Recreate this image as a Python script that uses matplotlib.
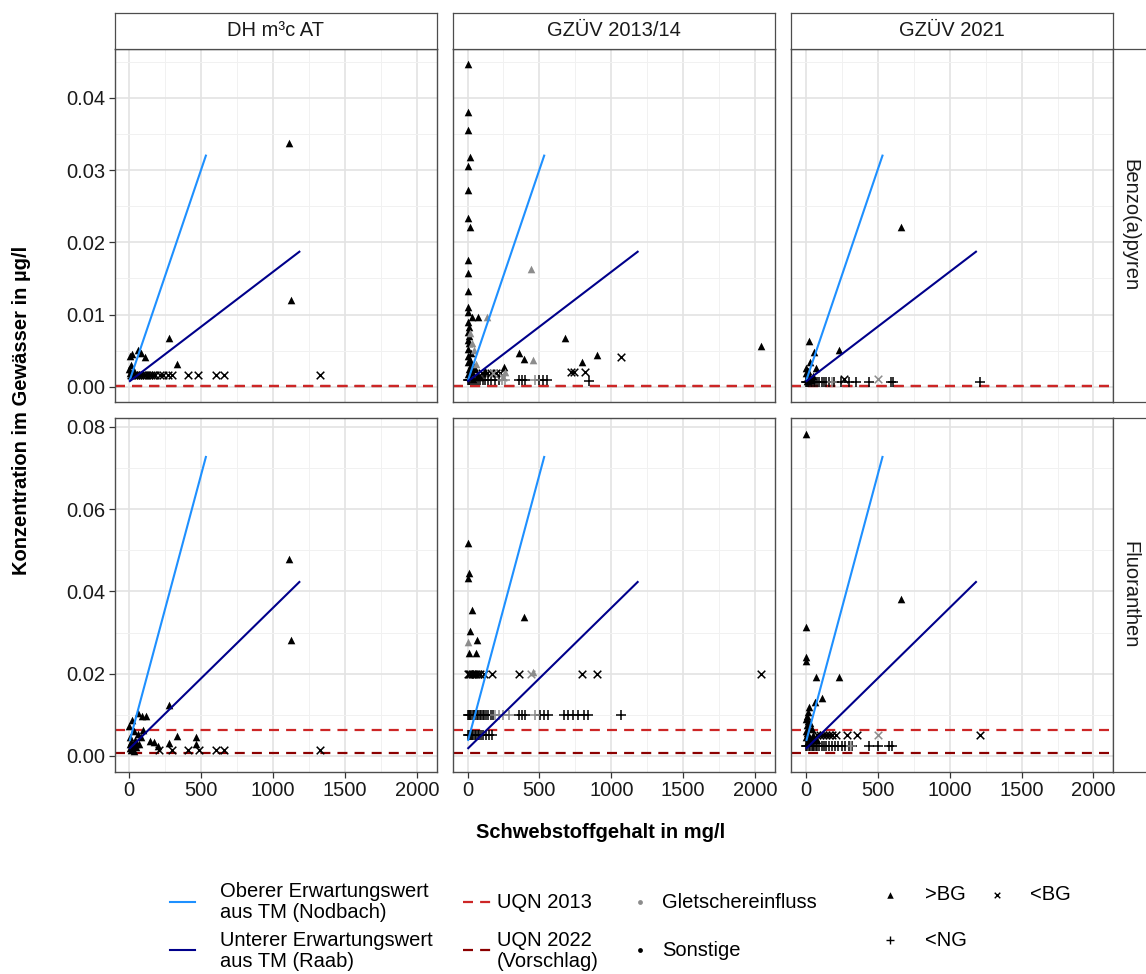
import matplotlib
matplotlib.use("Agg")
import matplotlib.pyplot as plt
import pandas as pd
from matplotlib.lines import Line2D

plt.rcParams['font.family'] = ['Liberation Sans', 'DejaVu Sans']

W, H = 1146, 974

sources = ["DH m³c AT", "GZÜV 2013/14", "GZÜV 2021"]
substances = ["Benzo(a)pyren", "Fluoranthen"]

# (Schwebstoff mg/l, Konzentration µg/l, Kennung, Herkunft: S = Sonstige, G = Gletschereinfluss)
bap_dh = [
    (0, .0025, ">BG", "S"), (3, .0019, ">BG", "S"), (8, .0043, ">BG", "S"), (12, .0030, ">BG", "S"),
    (19, .0046, ">BG", "S"), (25, .0018, ">BG", "S"), (35, .0022, ">BG", "S"), (60, .0051, ">BG", "S"),
    (81, .0047, ">BG", "S"), (113, .0041, ">BG", "S"), (280, .0067, ">BG", "S"), (329, .0032, ">BG", "S"),
    (1109, .0337, ">BG", "S"), (1125, .0120, ">BG", "S"),
    (15, .0016, "<BG", "S"), (30, .0016, "<BG", "S"), (45, .0016, "<BG", "S"), (60, .0016, "<BG", "S"),
    (75, .0016, "<BG", "S"), (90, .0016, "<BG", "S"), (105, .0016, "<BG", "S"), (120, .0016, "<BG", "S"),
    (135, .0016, "<BG", "S"), (150, .0016, "<BG", "S"), (165, .0016, "<BG", "S"), (180, .0016, "<BG", "S"),
    (215, .0016, "<BG", "S"), (235, .0016, "<BG", "S"), (273, .0016, "<BG", "S"), (297, .0016, "<BG", "S"),
    (412, .0016, "<BG", "S"), (475, .0016, "<BG", "S"), (604, .0016, "<BG", "S"), (662, .0016, "<BG", "S"),
    (1326, .0016, "<BG", "S"),
]

bap_gz13 = [
    (2, .0447, ">BG", "S"), (0, .0380, ">BG", "S"), (0, .0356, ">BG", "S"), (16, .0318, ">BG", "S"),
    (0, .0305, ">BG", "S"), (0, .0272, ">BG", "S"), (0, .0234, ">BG", "S"), (20, .0221, ">BG", "S"),
    (0, .0175, ">BG", "S"), (2, .0158, ">BG", "S"), (0, .0133, ">BG", "S"), (0, .0110, ">BG", "S"),
    (3, .0104, ">BG", "S"), (32, .0097, ">BG", "S"), (72, .0096, ">BG", "S"), (5, .0090, ">BG", "S"),
    (10, .0083, ">BG", "S"), (3, .0076, ">BG", "S"), (8, .0070, ">BG", "S"), (0, .0065, ">BG", "S"),
    (12, .0060, ">BG", "S"), (4, .0053, ">BG", "S"), (22, .0047, ">BG", "S"), (6, .0043, ">BG", "S"),
    (15, .0037, ">BG", "S"), (0, .0034, ">BG", "S"), (25, .0030, ">BG", "S"), (45, .0028, ">BG", "S"),
    (9, .0025, ">BG", "S"), (55, .0024, ">BG", "S"), (30, .0020, ">BG", "S"), (0, .0018, ">BG", "S"),
    (70, .0016, ">BG", "S"), (14, .0014, ">BG", "S"), (90, .0013, ">BG", "S"), (40, .0011, ">BG", "S"),
    (252, .0028, ">BG", "S"), (120, .0022, ">BG", "S"), (356, .0047, ">BG", "S"), (391, .0039, ">BG", "S"),
    (676, .0068, ">BG", "S"), (796, .0034, ">BG", "S"), (900, .0044, ">BG", "S"), (2039, .0056, ">BG", "S"),
    (1069, .0041, "<BG", "S"), (722, .0020, "<BG", "S"), (741, .0020, "<BG", "S"), (815, .0020, "<BG", "S"),
    (100, .0019, "<BG", "S"), (137, .0019, "<BG", "S"), (160, .0019, "<BG", "S"), (200, .0019, "<BG", "S"),
    (229, .0019, "<BG", "S"),
    (0, .0009, "<NG", "S"), (10, .0009, "<NG", "S"), (20, .0009, "<NG", "S"), (32, .0009, "<NG", "S"),
    (45, .0009, "<NG", "S"), (60, .0009, "<NG", "S"), (75, .0009, "<NG", "S"), (90, .0009, "<NG", "S"),
    (105, .0009, "<NG", "S"), (120, .0009, "<NG", "S"), (140, .0009, "<NG", "S"), (160, .0009, "<NG", "S"),
    (190, .0009, "<NG", "S"), (218, .0009, "<NG", "S"), (356, .0009, "<NG", "S"), (380, .0009, "<NG", "S"),
    (403, .0009, "<NG", "S"), (495, .0009, "<NG", "S"), (523, .0009, "<NG", "S"), (553, .0009, "<NG", "S"),
    (843, .00085, "<NG", "S"),
    (442, .0163, ">BG", "G"), (137, .0097, ">BG", "G"), (454, .0037, ">BG", "G"), (32, .0060, ">BG", "G"),
    (44, .0051, ">BG", "G"), (264, .0021, ">BG", "G"), (20, .0074, ">BG", "G"), (60, .0031, ">BG", "G"),
    (180, .0019, "<BG", "G"), (250, .0014, "<BG", "G"),
    (240, .0009, "<NG", "G"), (264, .0009, "<NG", "G"), (472, .0009, "<NG", "G"),
]

bap_gz21 = [
    (662, .0221, ">BG", "S"), (23, .0064, ">BG", "S"), (58, .0048, ">BG", "S"), (231, .0051, ">BG", "S"),
    (30, .0035, ">BG", "S"), (0, .0026, ">BG", "S"), (69, .0026, ">BG", "S"), (0, .0019, ">BG", "S"),
    (23, .0017, ">BG", "S"), (10, .0012, ">BG", "S"), (46, .0011, ">BG", "S"), (5, .0008, ">BG", "S"),
    (35, .0009, ">BG", "S"), (15, .0022, ">BG", "S"), (50, .0015, ">BG", "S"),
    (266, .00115, "<BG", "S"),
    (0, .0007, "<NG", "S"), (8, .0007, "<NG", "S"), (16, .0007, "<NG", "S"), (25, .0007, "<NG", "S"),
    (35, .0007, "<NG", "S"), (45, .0007, "<NG", "S"), (55, .0007, "<NG", "S"), (65, .0007, "<NG", "S"),
    (80, .0007, "<NG", "S"), (95, .0007, "<NG", "S"), (110, .0007, "<NG", "S"), (125, .0007, "<NG", "S"),
    (140, .0007, "<NG", "S"), (160, .0007, "<NG", "S"), (196, .0007, "<NG", "S"), (243, .0007, "<NG", "S"),
    (301, .0007, "<NG", "S"), (347, .0007, "<NG", "S"), (440, .0007, "<NG", "S"), (590, .0007, "<NG", "S"),
    (608, .0007, "<NG", "S"), (1210, .0007, "<NG", "S"),
    (505, .00115, "<BG", "G"), (180, .0007, "<NG", "G"),
]

fl_dh = [
    (0, .0073, ">BG", "S"), (2, .0030, ">BG", "S"), (5, .0020, ">BG", "S"), (8, .0045, ">BG", "S"),
    (10, .0015, ">BG", "S"), (15, .0035, ">BG", "S"), (19, .0087, ">BG", "S"), (25, .0025, ">BG", "S"),
    (30, .0012, ">BG", "S"), (40, .0040, ">BG", "S"), (50, .0022, ">BG", "S"), (60, .0104, ">BG", "S"),
    (60, .0053, ">BG", "S"), (70, .0030, ">BG", "S"), (88, .0096, ">BG", "S"), (99, .0063, ">BG", "S"),
    (116, .0097, ">BG", "S"), (146, .0037, ">BG", "S"), (169, .0034, ">BG", "S"), (203, .0025, ">BG", "S"),
    (280, .0123, ">BG", "S"), (280, .0032, ">BG", "S"), (329, .0049, ">BG", "S"), (465, .0045, ">BG", "S"),
    (465, .0030, ">BG", "S"), (1109, .0480, ">BG", "S"), (1125, .0283, ">BG", "S"), (35, .0060, ">BG", "S"),
    (80, .0045, ">BG", "S"), (20, .0018, ">BG", "S"), (45, .0030, ">BG", "S"),
    (204, .0015, "<BG", "S"), (296, .0015, "<BG", "S"), (412, .0015, "<BG", "S"), (482, .0015, "<BG", "S"),
    (604, .0015, "<BG", "S"), (662, .0015, "<BG", "S"), (1326, .0015, "<BG", "S"),
]

fl_gz13 = [
    (2, .0518, ">BG", "S"), (9, .0444, ">BG", "S"), (0, .0432, ">BG", "S"), (33, .0356, ">BG", "S"),
    (391, .0338, ">BG", "S"), (14, .0304, ">BG", "S"), (63, .0282, ">BG", "S"), (9, .0251, ">BG", "S"),
    (60, .0251, ">BG", "S"),
    (0, .0200, "<BG", "S"), (10, .0200, "<BG", "S"), (20, .0200, "<BG", "S"), (30, .0200, "<BG", "S"),
    (40, .0200, "<BG", "S"), (50, .0200, "<BG", "S"), (60, .0200, "<BG", "S"), (75, .0200, "<BG", "S"),
    (90, .0200, "<BG", "S"), (113, .0200, "<BG", "S"), (167, .0200, "<BG", "S"), (356, .0200, "<BG", "S"),
    (796, .0200, "<BG", "S"), (900, .0200, "<BG", "S"), (2040, .0200, "<BG", "S"),
    (0, .0100, "<NG", "S"), (8, .0100, "<NG", "S"), (16, .0100, "<NG", "S"), (25, .0100, "<NG", "S"),
    (35, .0100, "<NG", "S"), (45, .0100, "<NG", "S"), (55, .0100, "<NG", "S"), (65, .0100, "<NG", "S"),
    (75, .0100, "<NG", "S"), (85, .0100, "<NG", "S"), (95, .0100, "<NG", "S"), (105, .0100, "<NG", "S"),
    (115, .0100, "<NG", "S"), (125, .0100, "<NG", "S"), (140, .0100, "<NG", "S"), (160, .0100, "<NG", "S"),
    (180, .0100, "<NG", "S"), (356, .0100, "<NG", "S"), (380, .0100, "<NG", "S"), (403, .0100, "<NG", "S"),
    (507, .0100, "<NG", "S"), (530, .0100, "<NG", "S"), (560, .0100, "<NG", "S"), (669, .0100, "<NG", "S"),
    (700, .0100, "<NG", "S"), (734, .0100, "<NG", "S"), (766, .0100, "<NG", "S"), (808, .0100, "<NG", "S"),
    (836, .0100, "<NG", "S"), (1069, .0100, "<NG", "S"),
    (0, .0050, "<NG", "S"), (8, .0050, "<NG", "S"), (16, .0050, "<NG", "S"), (24, .0050, "<NG", "S"),
    (32, .0050, "<NG", "S"), (40, .0050, "<NG", "S"), (50, .0050, "<NG", "S"), (60, .0050, "<NG", "S"),
    (70, .0050, "<NG", "S"), (80, .0050, "<NG", "S"), (95, .0050, "<NG", "S"), (110, .0050, "<NG", "S"),
    (130, .0050, "<NG", "S"), (150, .0050, "<NG", "S"), (171, .0050, "<NG", "S"),
    (5, .0276, ">BG", "G"), (454, .0205, ">BG", "G"), (438, .0200, "<BG", "G"),
    (194, .0100, "<NG", "G"), (220, .0100, "<NG", "G"), (250, .0100, "<NG", "G"), (287, .0100, "<NG", "G"),
    (472, .0100, "<NG", "G"),
]

fl_gz21 = [
    (0, .0784, ">BG", "S"), (0, .0313, ">BG", "S"), (0, .0241, ">BG", "S"), (0, .0232, ">BG", "S"),
    (69, .0193, ">BG", "S"), (231, .0193, ">BG", "S"), (662, .0382, ">BG", "S"), (109, .0142, ">BG", "S"),
    (62, .0132, ">BG", "S"), (23, .0120, ">BG", "S"), (12, .0108, ">BG", "S"), (8, .0097, ">BG", "S"),
    (0, .0090, ">BG", "S"), (15, .0085, ">BG", "S"), (30, .0080, ">BG", "S"), (5, .0075, ">BG", "S"),
    (20, .0070, ">BG", "S"), (40, .0065, ">BG", "S"), (0, .0060, ">BG", "S"), (10, .0055, ">BG", "S"),
    (50, .0052, ">BG", "S"), (25, .0048, ">BG", "S"), (3, .0045, ">BG", "S"), (60, .0042, ">BG", "S"),
    (35, .0040, ">BG", "S"), (18, .0036, ">BG", "S"), (75, .0038, ">BG", "S"),
    (81, .0050, "<BG", "S"), (100, .0050, "<BG", "S"), (120, .0050, "<BG", "S"), (140, .0050, "<BG", "S"),
    (160, .0050, "<BG", "S"), (185, .0050, "<BG", "S"), (208, .0050, "<BG", "S"), (285, .0050, "<BG", "S"),
    (354, .0050, "<BG", "S"), (1210, .0050, "<BG", "S"),
    (0, .0025, "<NG", "S"), (10, .0025, "<NG", "S"), (20, .0025, "<NG", "S"), (30, .0025, "<NG", "S"),
    (40, .0025, "<NG", "S"), (50, .0025, "<NG", "S"), (60, .0025, "<NG", "S"), (69, .0025, "<NG", "S"),
    (80, .0025, "<NG", "S"), (95, .0025, "<NG", "S"), (110, .0025, "<NG", "S"), (125, .0025, "<NG", "S"),
    (140, .0025, "<NG", "S"), (160, .0025, "<NG", "S"), (180, .0025, "<NG", "S"), (200, .0025, "<NG", "S"),
    (225, .0025, "<NG", "S"), (250, .0025, "<NG", "S"), (275, .0025, "<NG", "S"), (300, .0025, "<NG", "S"),
    (324, .0025, "<NG", "S"), (440, .0025, "<NG", "S"), (502, .0025, "<NG", "S"), (579, .0025, "<NG", "S"),
    (602, .0025, "<NG", "S"),
    (505, .0050, "<BG", "G"), (313, .0025, "<NG", "G"),
]

panel_data = {
    ("Benzo(a)pyren", "DH m³c AT"): bap_dh,
    ("Benzo(a)pyren", "GZÜV 2013/14"): bap_gz13,
    ("Benzo(a)pyren", "GZÜV 2021"): bap_gz21,
    ("Fluoranthen", "DH m³c AT"): fl_dh,
    ("Fluoranthen", "GZÜV 2013/14"): fl_gz13,
    ("Fluoranthen", "GZÜV 2021"): fl_gz21,
}

# Erwartungswerte aus Trockenmasse: Endpunkte (Schwebstoff mg/l -> µg/l)
tm_ss_upper = [5, 533]
tm_ss_lower = [5, 1183]
tm_upper = {"Benzo(a)pyren": [0.0010, 0.0320], "Fluoranthen": [0.0039, 0.0727]}
tm_lower = {"Benzo(a)pyren": [0.0008, 0.0187], "Fluoranthen": [0.0019, 0.0423]}

# Umweltqualitätsnormen (µg/l)
uqn_2013 = {"Benzo(a)pyren": 0.00017, "Fluoranthen": 0.0063}
uqn_2022 = {"Benzo(a)pyren": 0.00017, "Fluoranthen": 0.00076}

x_ticks = [0, 500, 1000, 1500, 2000]
y_ticks = {"Benzo(a)pyren": [0.00, 0.01, 0.02, 0.03, 0.04],
           "Fluoranthen": [0.00, 0.02, 0.04, 0.06, 0.08]}
y_minor = {"Benzo(a)pyren": [0.005, 0.015, 0.025, 0.035, 0.045],
           "Fluoranthen": [0.01, 0.03, 0.05, 0.07]}
y_lims = {"Benzo(a)pyren": (-0.0021, 0.0468), "Fluoranthen": (-0.0038, 0.0821)}

rows = []
for (sub, src), pts in panel_data.items():
    for x, y, kind, grp in pts:
        rows.append((sub, src, x, y, kind, grp))
df = pd.DataFrame(rows, columns=["substance", "source", "ss", "conc", "kind", "group"])

col_upper = "#1E90FF"
col_lower = "#00008B"
col_uqn13 = "#CD2626"
col_uqn22 = "#8B0000"
group_colors = {"S": "black", "G": "#8c8c8c"}
marker_kw = {
    ">BG": dict(marker="^", s=30, linewidths=0),
    "<BG": dict(marker="x", s=30, linewidths=1.1),
    "<NG": dict(marker="+", s=55, linewidths=1.1),
}
border = "#4d4d4d"
fs = 14.5


def box(left, top, w, h):
    return [left / W, 1 - (top + h) / H, w / W, h / H]


col_left = [114.7, 453.0, 791.3]
row_top = [48.7, 418.3]
pw, ph = 322.0, 353.3

fig = plt.figure(figsize=(W / 100, H / 100), dpi=100)

for r, sub in enumerate(substances):
    for c, src in enumerate(sources):
        ax = fig.add_axes(box(col_left[c], row_top[r], pw, ph))
        ax.set_xlim(-101, 2138)
        ax.set_ylim(*y_lims[sub])
        ax.set_xticks(x_ticks)
        ax.set_xticks([250, 750, 1250, 1750], minor=True)
        ax.set_yticks(y_ticks[sub])
        ax.set_yticks(y_minor[sub], minor=True)
        ax.grid(True, which="major", color="#e3e3e3", lw=1.2, zorder=0)
        ax.grid(True, which="minor", color="#f1f1f1", lw=0.7, zorder=0)
        ax.set_axisbelow(True)
        for sp in ax.spines.values():
            sp.set_color(border)
            sp.set_linewidth(1.0)
        ax.tick_params(which="minor", length=0)
        ax.tick_params(which="major", length=4, width=0.9, color="#333333",
                       labelsize=fs, labelcolor="#1a1a1a", pad=3)
        ax.set_yticklabels([f"{v:.2f}" for v in y_ticks[sub]])
        if c > 0:
            ax.tick_params(axis="y", length=0, labelleft=False)
        if r == 0:
            ax.tick_params(axis="x", length=0, labelbottom=False)

        # Umweltqualitätsnormen
        ax.axhline(uqn_2022[sub], color=col_uqn22, lw=1.6, dashes=(4.5, 3.2), zorder=2)
        ax.axhline(uqn_2013[sub], color=col_uqn13, lw=1.6, dashes=(4.5, 3.2), zorder=2)

        sel = df[(df.substance == sub) & (df.source == src)]
        for grp in ["S", "G"]:
            for kind, kw in marker_kw.items():
                d = sel[(sel.group == grp) & (sel.kind == kind)]
                if d.empty:
                    continue
                ax.scatter(d.ss, d.conc, color=group_colors[grp], zorder=3, **kw)

        ax.plot(tm_ss_upper, tm_upper[sub], color=col_upper, lw=1.5, zorder=4)
        ax.plot(tm_ss_lower, tm_lower[sub], color=col_lower, lw=1.5, zorder=4)

        # Facettenbeschriftung oben
        if r == 0:
            st = fig.add_axes(box(col_left[c], 13.0, pw, row_top[0] - 13.0))
            st.set_xticks([])
            st.set_yticks([])
            for sp in st.spines.values():
                sp.set_color(border)
                sp.set_linewidth(0.9)
            st.text(0.5, 0.5, src, ha="center", va="center", fontsize=fs,
                    color="#1a1a1a", transform=st.transAxes)

    # Facettenbeschriftung rechts
    sr = fig.add_axes(box(col_left[2] + pw, row_top[r], 60, ph))
    sr.set_xticks([])
    sr.set_yticks([])
    for sp in sr.spines.values():
        sp.set_color(border)
        sp.set_linewidth(0.9)
    sr.set_xlim(0, 60)
    sr.set_ylim(ph, 0)
    sr.text(1130 - (col_left[2] + pw), ph / 2, sub, rotation=-90, ha="center", va="center",
            fontsize=fs, color="#1a1a1a")

fig.text(601 / W, 1 - 833 / H, "Schwebstoffgehalt in mg/l", ha="center", va="center",
         fontsize=fs, fontweight="bold")
fig.text(22 / W, 1 - 410 / H, "Konzentration im Gewässer in µg/l", ha="center", va="center",
         rotation=90, fontsize=fs, fontweight="bold")

# Legende
lg = fig.add_axes([0, 0, 1, 1], facecolor="none")
lg.set_xlim(0, W)
lg.set_ylim(H, 0)
lg.axis("off")
lg.add_line(Line2D([170, 195], [902, 902], color=col_upper, lw=1.5))
lg.add_line(Line2D([170, 195], [950, 950], color=col_lower, lw=1.5))
lg.text(220, 902, "Oberer Erwartungswert\naus TM (Nodbach)", va="center", fontsize=fs, linespacing=1.08)
lg.text(220, 951, "Unterer Erwartungswert\naus TM (Raab)", va="center", fontsize=fs, linespacing=1.08)
lg.add_line(Line2D([463, 491], [902, 902], color=col_uqn13, lw=1.6, dashes=(4.5, 3.2)))
lg.add_line(Line2D([463, 491], [950, 950], color=col_uqn22, lw=1.6, dashes=(4.5, 3.2)))
lg.text(497, 902, "UQN 2013", va="center", fontsize=fs)
lg.text(497, 951, "UQN 2022\n(Vorschlag)", va="center", fontsize=fs, linespacing=1.08)
lg.scatter([640], [902], s=12, color=group_colors["G"], linewidths=0)
lg.scatter([640], [950], s=12, color=group_colors["S"], linewidths=0)
lg.text(662, 902, "Gletschereinfluss", va="center", fontsize=fs)
lg.text(662, 950, "Sonstige", va="center", fontsize=fs)
lg.scatter([890], [895], marker="^", s=22, color="black", linewidths=0)
lg.scatter([997], [895], marker="x", s=16, color="black", linewidths=1.0)
lg.scatter([890], [940], marker="+", s=30, color="black", linewidths=1.0)
lg.text(925, 895, ">BG", va="center", fontsize=fs)
lg.text(1030, 895, "<BG", va="center", fontsize=fs)
lg.text(925, 940, "<NG", va="center", fontsize=fs)

fig.savefig("out.png", dpi=100)
